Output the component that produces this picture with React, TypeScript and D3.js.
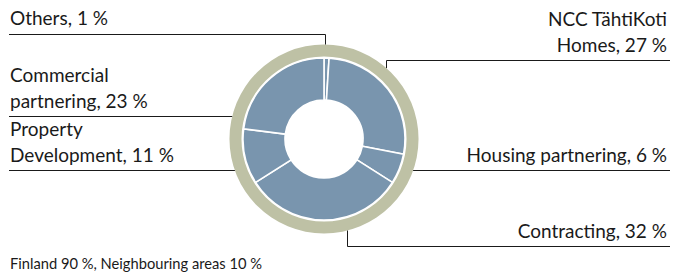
import React from "react";
import * as d3 from "d3";

// segments clockwise from 12 o'clock
const segments = [
  "Others",
  "NCC TähtiKoti Homes",
  "Housing partnering",
  "Contracting",
  "Property Development",
  "Commercial partnering",
];
const shares = [1, 27, 6, 32, 11, 23];
const labelLines = [
  ["Others, 1 %"],
  ["NCC TähtiKoti", "Homes, 27 %"],
  ["Housing partnering, 6 %"],
  ["Contracting, 32 %"],
  ["Property", "Development, 11 %"],
  ["Commercial", "partnering, 23 %"],
];
const footnote = "Finland 90 %, Neighbouring areas 10 %";

const W = 674;
const H = 275;
const cx = 324;
const cy = 139;
const ringOuter = 94.5;
const ringInner = 82.5;
const donutOuter = 81;
const donutInner = 39;

// label layout: side, rule y, text baseline of last line, optional elbow x
const layout = [
  { side: "left", ruleY: 34.5, baseY: 25, elbowX: 325.5 },
  { side: "right", ruleY: 60.5, baseY: 52, elbowX: 386.5 },
  { side: "right", ruleY: 170.5, baseY: 162 },
  { side: "right", ruleY: 246.5, baseY: 238, elbowX: 347.5 },
  { side: "left", ruleY: 170.5, baseY: 162 },
  { side: "left", ruleY: 116.5, baseY: 108 },
];
const leftX = 9;
const rightX = 670;
const lineH = 26;
const font = "Lato, 'Open Sans', sans-serif";
const fontSize = 19;

export default function App() {
  const pie = d3
    .pie<number>()
    .sort(null)
    .value((d) => d);
  const arcs = pie(shares);
  const arc = d3
    .arc<d3.PieArcDatum<number>>()
    .innerRadius(donutInner)
    .outerRadius(donutOuter);
  const ring = d3
    .arc()
    .innerRadius(ringInner)
    .outerRadius(ringOuter)
    .startAngle(0)
    .endAngle(2 * Math.PI);

  const leader = (i: number) => {
    const l = layout[i];
    const x0 = l.side === "left" ? leftX : rightX;
    if (l.elbowX !== undefined) {
      const dx = l.elbowX - cx;
      const h = Math.sqrt(ringOuter * ringOuter - dx * dx);
      const yEnd = l.ruleY < cy ? cy - h : cy + h;
      return `M${x0},${l.ruleY}H${l.elbowX}V${yEnd}`;
    }
    const dy = l.ruleY - cy;
    const w = Math.sqrt(ringOuter * ringOuter - dy * dy);
    const xEnd = l.side === "left" ? cx - w : cx + w;
    return `M${x0},${l.ruleY}H${xEnd}`;
  };

  return (
    <svg
      width={W}
      height={H}
      style={{ position: "absolute", left: 0, top: 0, background: "#fff" }}
    >
      <g transform={`translate(${cx},${cy})`}>
        <path d={ring(null as any) as string} fill="#bec1a5" />
        {arcs.map((a, i) => (
          <path
            key={segments[i]}
            d={arc(a) as string}
            fill="#7995ae"
            stroke="#fff"
            strokeWidth={1.6}
          />
        ))}
      </g>
      {segments.map((s, i) => (
        <path
          key={"l" + s}
          d={leader(i)}
          fill="none"
          stroke="#1a1a1a"
          strokeWidth={1}
        />
      ))}
      {segments.map((s, i) => {
        const l = layout[i];
        const lines = labelLines[i];
        const x = l.side === "left" ? 10 : 667;
        return (
          <text
            key={"t" + s}
            fontFamily={font}
            fontSize={fontSize}
            fill="#1a1a1a"
            textAnchor={l.side === "left" ? "start" : "end"}
          >
            {lines.map((t, j) => (
              <tspan
                key={j}
                x={x}
                y={l.baseY - (lines.length - 1 - j) * lineH}
              >
                {t}
              </tspan>
            ))}
          </text>
        );
      })}
      <text x={10} y={269} fontFamily={font} fontSize={14.7} fill="#1a1a1a">
        {footnote}
      </text>
    </svg>
  );
}
